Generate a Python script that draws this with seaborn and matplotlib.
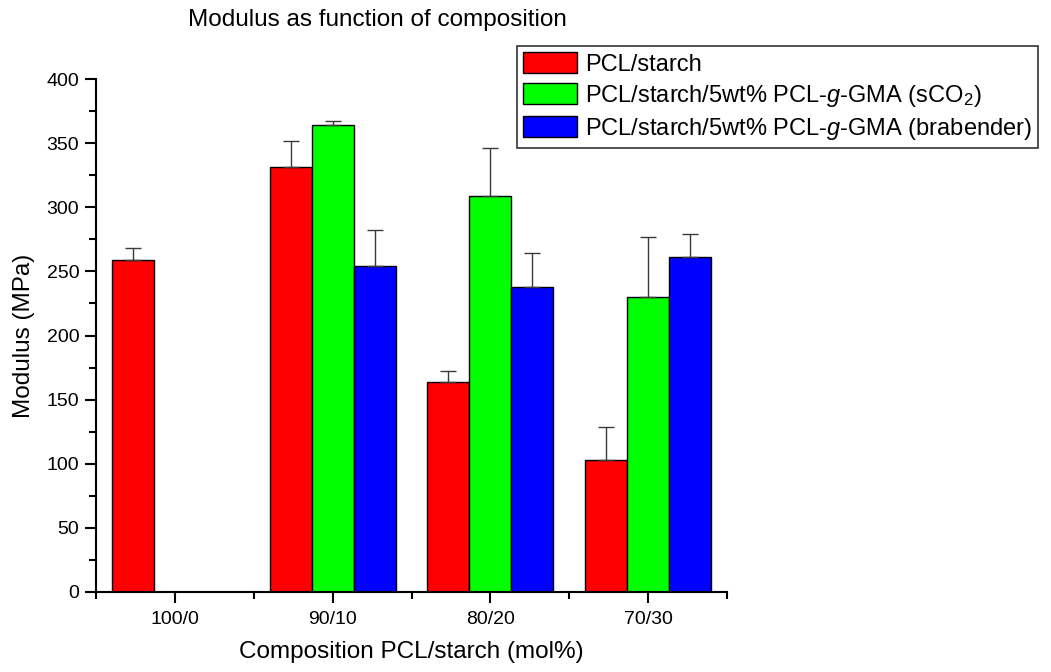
import numpy as np
import pandas as pd
import matplotlib
matplotlib.use("Agg")
import matplotlib.pyplot as plt
from matplotlib.patches import Patch
from matplotlib.ticker import MultipleLocator, FixedLocator
import seaborn as sns

# Tensile modulus (MPa) and upper standard deviation per blend composition
compositions = ["100/0", "90/10", "80/20", "70/30"]
series_names = [
    "PCL/starch",
    "PCL/starch/5wt% PCL-$\\it{g}$-GMA (sCO$_2$)",
    "PCL/starch/5wt% PCL-$\\it{g}$-GMA (brabender)",
]
modulus_plain = [259, 331, 164, 103]
modulus_sco2 = [np.nan, 364, 309, 230]
modulus_brabender = [np.nan, 254, 238, 261]
err_plain = [9, 21, 8, 26]
err_sco2 = [np.nan, 3, 37, 47]
err_brabender = [np.nan, 28, 26, 18]

colors = ["#FF0000", "#00FF00", "#0000FF"]

values = [modulus_plain, modulus_sco2, modulus_brabender]
errors = [err_plain, err_sco2, err_brabender]
rows = []
for name, vals, errs in zip(series_names, values, errors):
    for comp, v, e in zip(compositions, vals, errs):
        rows.append({"composition": comp, "series": name, "modulus": v, "err": e})
df = pd.DataFrame(rows)

sns.set_style("ticks")
plt.rcParams["font.family"] = ["Liberation Sans", "DejaVu Sans"]
plt.rcParams["mathtext.fontset"] = "custom"
plt.rcParams["mathtext.rm"] = "Liberation Sans"
plt.rcParams["mathtext.it"] = "Liberation Sans:italic"
plt.rcParams["text.color"] = "black"
plt.rcParams["axes.labelcolor"] = "black"

fig = plt.figure(figsize=(10.51, 6.72), dpi=100)
ax = fig.add_axes([96 / 1051, 1 - 592 / 672, (727 - 96) / 1051, (592 - 79) / 672])

sns.barplot(
    data=df.dropna(subset=["modulus"]),
    x="composition", y="modulus", hue="series",
    order=compositions, hue_order=series_names,
    palette=colors, errorbar=None, width=0.8,
    edgecolor="black", linewidth=1.0, saturation=1.0,
    legend=False, ax=ax,
)

# One-sided (upward) error bars on each drawn bar
err_lookup = {(c, s): e for c, s, e in zip(df["composition"], df["series"], df["err"])}
for s_name, container in zip(series_names, ax.containers):
    for bar in container:
        h = bar.get_height()
        if not np.isfinite(h):
            continue
        xc = bar.get_x() + bar.get_width() / 2
        comp = compositions[int(round(xc))]
        e = err_lookup[(comp, s_name)]
        ax.errorbar(xc, h, yerr=[[0], [e]], fmt="none", ecolor="#3a3a3a",
                    elinewidth=1.0, capsize=5.5, capthick=1.0, zorder=1)

ax.set_xlim(-0.5, 3.5)
ax.set_ylim(0, 400)
ax.yaxis.set_major_locator(MultipleLocator(50))
ax.yaxis.set_minor_locator(MultipleLocator(25))
ax.xaxis.set_minor_locator(FixedLocator([-0.5, 0.5, 1.5, 2.5, 3.5]))

sns.despine(ax=ax)
for sp in ("left", "bottom"):
    ax.spines[sp].set_linewidth(1.5)
    ax.spines[sp].set_color("black")

ax.tick_params(axis="both", which="major", length=8, width=1.5, labelsize=14,
               colors="black", labelcolor="black")
ax.tick_params(axis="both", which="minor", length=5, width=1.5, colors="black")
ax.tick_params(axis="x", which="major", pad=6)
ax.tick_params(axis="y", which="major", pad=4)

ax.set_xlabel("Composition PCL/starch (mol%)", fontsize=17.5, labelpad=9)
ax.set_ylabel("Modulus (MPa)", fontsize=17.5, labelpad=8)

fig.text(377 / 1051, 1 - 20 / 672, "Modulus as function of composition",
         fontsize=17.5, ha="center", va="center")

handles = [Patch(facecolor=c, edgecolor="black", linewidth=1.0) for c in colors]
leg = fig.legend(
    handles, series_names, loc="upper left",
    bbox_to_anchor=(517 / 1051, 1 - 46 / 672),
    fontsize=17, frameon=True, fancybox=False, shadow=False,
    handlelength=2.3, handleheight=1.0, handletextpad=0.35,
    labelspacing=0.3, borderpad=0.25, borderaxespad=0.0,
)
leg.get_frame().set_edgecolor("#333333")
leg.get_frame().set_linewidth(1.2)
leg.get_frame().set_alpha(1.0)

fig.savefig("out.png", dpi=100)
